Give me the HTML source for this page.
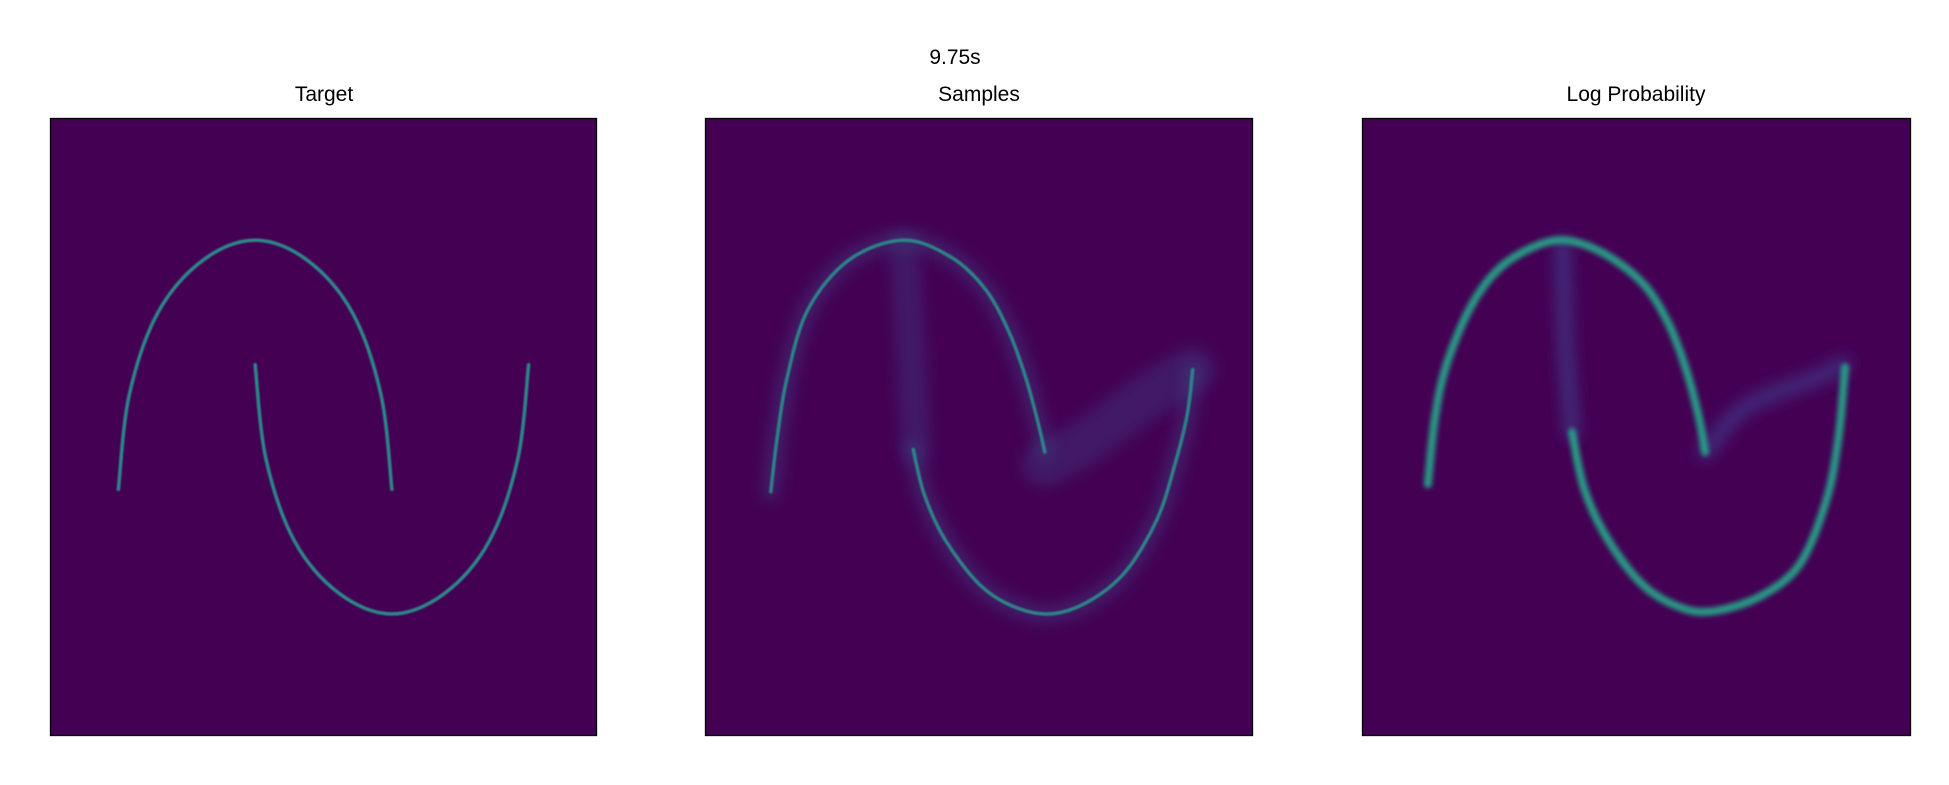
<!DOCTYPE html>
<html><head><meta charset="utf-8">
<style>
html,body{margin:0;padding:0;background:#fff;}
svg{display:block;}
text{font-family:"Liberation Sans","DejaVu Sans",sans-serif;font-size:21px;fill:#000;}
</style></head>
<body>
<svg id="fig" width="1949" height="785" viewBox="0 0 1949 785" xmlns="http://www.w3.org/2000/svg">
<defs>
<filter id="blur3" filterUnits="userSpaceOnUse" x="0" y="0" width="1949" height="785"><feGaussianBlur stdDeviation="2.5"/></filter>
<filter id="blur8" filterUnits="userSpaceOnUse" x="0" y="0" width="1949" height="785"><feGaussianBlur stdDeviation="7"/></filter>
<filter id="blur1" filterUnits="userSpaceOnUse" x="0" y="0" width="1949" height="785"><feGaussianBlur stdDeviation="0.7"/></filter>
</defs>
<text x="955" y="64" text-anchor="middle">9.75s</text>
<text x="324" y="101" text-anchor="middle">Target</text>
<text x="979" y="101" text-anchor="middle">Samples</text>
<text x="1636" y="101" text-anchor="middle">Log Probability</text>
<g id="plots"></g>
</svg>
<script>
const targetUpperX = [-1, -0.92, -0.71, -0.38, 0, 0.38, 0.71, 0.92, 1];
const targetUpperY = [0, 0.38, 0.71, 0.92, 1, 0.92, 0.71, 0.38, 0];
const targetLowerX = [0, 0.08, 0.29, 0.62, 1, 1.38, 1.71, 1.92, 2];
const targetLowerY = [0.5, 0.12, -0.21, -0.42, -0.5, -0.42, -0.21, 0.12, 0.5];
const samplesUpperX = [-1.02, -0.97, -0.9, -0.75, -0.45, -0.05, 0.3, 0.55, 0.72, 0.84, 0.93, 0.98];
const samplesUpperY = [-0.01, 0.22, 0.45, 0.72, 0.92, 1.0, 0.93, 0.8, 0.63, 0.45, 0.27, 0.15];
const samplesLowerX = [0.02, 0.1, 0.25, 0.5, 0.75, 1.02, 1.3, 1.57, 1.8, 1.93, 2.02, 2.06];
const samplesLowerY = [0.16, -0.02, -0.2, -0.38, -0.47, -0.5, -0.45, -0.33, -0.12, 0.1, 0.3, 0.48];
const samplesGhostX = [-0.05, 0.0, 0.02, 0.04];
const samplesGhostY = [0.98, 0.6, 0.35, 0.16];
const samplesGhost2X = [0.98, 1.3, 1.75, 2.06];
const samplesGhost2Y = [0.1, 0.2, 0.38, 0.48];
const logUpperX = [-1.02, -0.97, -0.89, -0.72, -0.53, -0.3, -0.04, 0.25, 0.54, 0.72, 0.85, 0.95, 1.0];
const logUpperY = [0.02, 0.28, 0.49, 0.72, 0.87, 0.96, 1.0, 0.95, 0.83, 0.68, 0.5, 0.3, 0.15];
const logLowerX = [0.03, 0.12, 0.29, 0.54, 0.8, 1.05, 1.4, 1.69, 1.88, 1.97, 2.02];
const logLowerY = [0.23, 0.0, -0.2, -0.38, -0.47, -0.49, -0.43, -0.3, -0.05, 0.2, 0.49];
const logGhostX = [-0.04, -0.02, 0.0, 0.03];
const logGhostY = [0.98, 0.63, 0.45, 0.23];
const logGhost2X = [1.0, 1.3, 1.82, 2.0];
const logGhost2Y = [0.15, 0.33, 0.45, 0.5];

const panels = [[50, 597], [705, 1253], [1362, 1911]];
const plotTop = 118, plotBottom = 736;
const NS = 'http://www.w3.org/2000/svg';
const g = document.getElementById('plots');
function xs(p, v) { return panels[p][0] + (v + 1.5) / 4 * (panels[p][1] - panels[p][0]); }
function ys(v) { return plotTop + (1.49 - v) / 2.48 * (plotBottom - plotTop); }
function pathD(p, X, Y) {
  const pts = X.map((x, i) => [xs(p, x), ys(Y[i])]);
  let d = 'M' + pts[0][0] + ',' + pts[0][1];
  for (let i = 0; i < pts.length - 1; i++) {
    const p0 = pts[Math.max(i - 1, 0)], p1 = pts[i], p2 = pts[i + 1], p3 = pts[Math.min(i + 2, pts.length - 1)];
    const c1 = [p1[0] + (p2[0] - p0[0]) / 6, p1[1] + (p2[1] - p0[1]) / 6];
    const c2 = [p2[0] - (p3[0] - p1[0]) / 6, p2[1] - (p3[1] - p1[1]) / 6];
    d += ' C' + c1 + ' ' + c2 + ' ' + p2;
  }
  return d;
}
function addPath(parent, d, color, w, op, filt, name) {
  const e = document.createElementNS(NS, 'path');
  e.setAttribute('d', d); e.setAttribute('fill', 'none');
  e.setAttribute('stroke', color); e.setAttribute('stroke-width', w);
  e.setAttribute('stroke-linecap', 'round');
  e.setAttribute('opacity', op);
  if (filt) e.setAttribute('filter', 'url(#' + filt + ')');
  
  
  parent.appendChild(e);
}
const names = ['target-panel', 'samples-panel', 'log-prob-panel'];
panels.forEach((pp, p) => {
  const grp = document.createElementNS(NS, 'g');
  
  
  const r = document.createElementNS(NS, 'rect');
  r.setAttribute('x', pp[0]); r.setAttribute('y', plotTop);
  r.setAttribute('width', pp[1] - pp[0]); r.setAttribute('height', plotBottom - plotTop);
  r.setAttribute('fill', '#440154');
  
  
  grp.appendChild(r);
  g.appendChild(grp);
  if (p === 0) {
    addPath(grp, pathD(p, targetUpperX, targetUpperY), '#2a8f8a', 3.5, 0.95, 'blur1', 'upper-moon');
    addPath(grp, pathD(p, targetLowerX, targetLowerY), '#2a8f8a', 3.5, 0.95, 'blur1', 'lower-moon');
  } else if (p === 1) {
    addPath(grp, pathD(p, samplesUpperX, samplesUpperY), '#3b528b', 18, 0.35, 'blur8', 'upper-moon-diffuse');
    addPath(grp, pathD(p, samplesLowerX, samplesLowerY), '#3b528b', 18, 0.35, 'blur8', 'lower-moon-diffuse');
    addPath(grp, pathD(p, samplesGhostX, samplesGhostY), '#3b528b', 30, 0.3, 'blur8', 'spurious-density');
    addPath(grp, pathD(p, samplesGhost2X, samplesGhost2Y), '#3b528b', 45, 0.3, 'blur8', 'spurious-density-right');
    addPath(grp, pathD(p, samplesUpperX, samplesUpperY), '#2a8f8a', 3.5, 0.9, 'blur1', 'upper-moon');
    addPath(grp, pathD(p, samplesLowerX, samplesLowerY), '#2a8f8a', 3.5, 0.9, 'blur1', 'lower-moon');
  } else {
    addPath(grp, pathD(p, logGhostX, logGhostY), '#413d8c', 16, 0.7, 'blur8', 'spurious-density');
    addPath(grp, pathD(p, logGhost2X, logGhost2Y), '#413d8c', 18, 0.6, 'blur8', 'spurious-density-right');
    addPath(grp, pathD(p, logUpperX, logUpperY), '#25a187', 8, 0.95, 'blur3', 'upper-moon');
    addPath(grp, pathD(p, logLowerX, logLowerY), '#25a187', 8, 0.95, 'blur3', 'lower-moon');
  }
  const b = document.createElementNS(NS, 'rect');
  b.setAttribute('x', pp[0] + 0.5); b.setAttribute('y', plotTop + 0.5);
  b.setAttribute('width', pp[1] - pp[0] - 1); b.setAttribute('height', plotBottom - plotTop - 1);
  b.setAttribute('fill', 'none'); b.setAttribute('stroke', '#000'); b.setAttribute('stroke-width', 1.3);
  
  
  grp.appendChild(b);
});
</script>
</body></html>
